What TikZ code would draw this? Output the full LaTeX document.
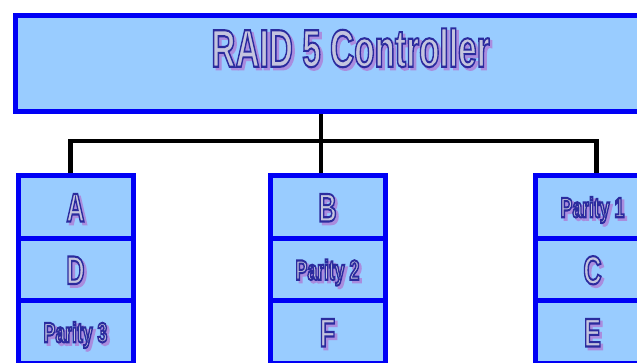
\documentclass[tikz,border=0pt]{standalone}
\usepackage{fontspec}
\setmainfont{Liberation Sans}
\usetikzlibrary{backgrounds}
\definecolor{boxfill}{RGB}{153,204,255}
\definecolor{boxline}{RGB}{0,0,245}
\definecolor{txtfill}{RGB}{196,196,222}
\definecolor{txtshadow}{RGB}{170,140,222}
\newsavebox\fxsave
\newcommand\fx[3]{{\fontsize{#1}{#1}\selectfont\bfseries
  \setbox\fxsave\hbox{\scalebox{0.63}[1]{#3}}%
  \raisebox{-#2pt}[0pt][0pt]{%
  \rlap{\hspace*{2.6pt}\raisebox{-2.6pt}{\textcolor{txtshadow}{\special{pdf:literal direct 2 Tr 2.2 w 0.667 0.549 0.871 RG}\usebox\fxsave\special{pdf:literal direct 0 Tr}}}}%
  \textcolor{txtfill}{\special{pdf:literal direct 2 Tr 2.1 w 0.17 0.17 0.62 RG}\usebox\fxsave\special{pdf:literal direct 0 Tr}}}}}
\begin{document}
\begin{tikzpicture}[x=1pt,y=-1pt,
  blk/.style={draw=boxline, fill=boxfill, line width=5pt, inner sep=0pt, anchor=north west},
  cell/.style={blk, minimum width=115pt, minimum height=62.5pt},
  wire/.style={line width=4.5pt, black}]
\useasboundingbox (0,0) rectangle (637,363);
\clip (0,0) rectangle (637,363);
\node[blk, minimum width=671pt, minimum height=95.5pt] (ctrl) at (12.5,13.5) {\fx{53}{3}{RAID 5 Controller}};
% column 1
\node[cell] (a1) at (15.5,173.5) {\fx{40}{14.3}{A}};
\node[cell] (a2) at (15.5,236) {\fx{40}{14.3}{D}};
\node[cell] (a3) at (15.5,298.5) {\fx{28}{10}{Parity 3}};
% column 2
\node[cell] (b1) at (267.5,173.5) {\fx{40}{14.3}{B}};
\node[cell] (b2) at (267.5,236) {\fx{28}{10}{Parity 2}};
\node[cell] (b3) at (267.5,298.5) {\fx{40}{14.3}{F}};
% column 3
\node[cell] (c1) at (532.5,173.5) {\fx{28}{10}{Parity 1}};
\node[cell] (c2) at (532.5,236) {\fx{40}{14.3}{C}};
\node[cell] (c3) at (532.5,298.5) {\fx{40}{14.3}{E}};
\begin{pgfonlayer}{background}
\fill[white] (0,0) rectangle (637,363);
\coordinate (bus) at (321,141);
\draw[wire] (ctrl.south -| bus) -- (bus);
\draw[wire] ([xshift=-5pt]a1.north) -- ([xshift=-5pt]a1.north |- bus) -- ([xshift=4pt]c1.north |- bus) -- ([xshift=4pt]c1.north);
\draw[wire] (bus) -- (bus |- b1.north);
\end{pgfonlayer}
\end{tikzpicture}
\end{document}
